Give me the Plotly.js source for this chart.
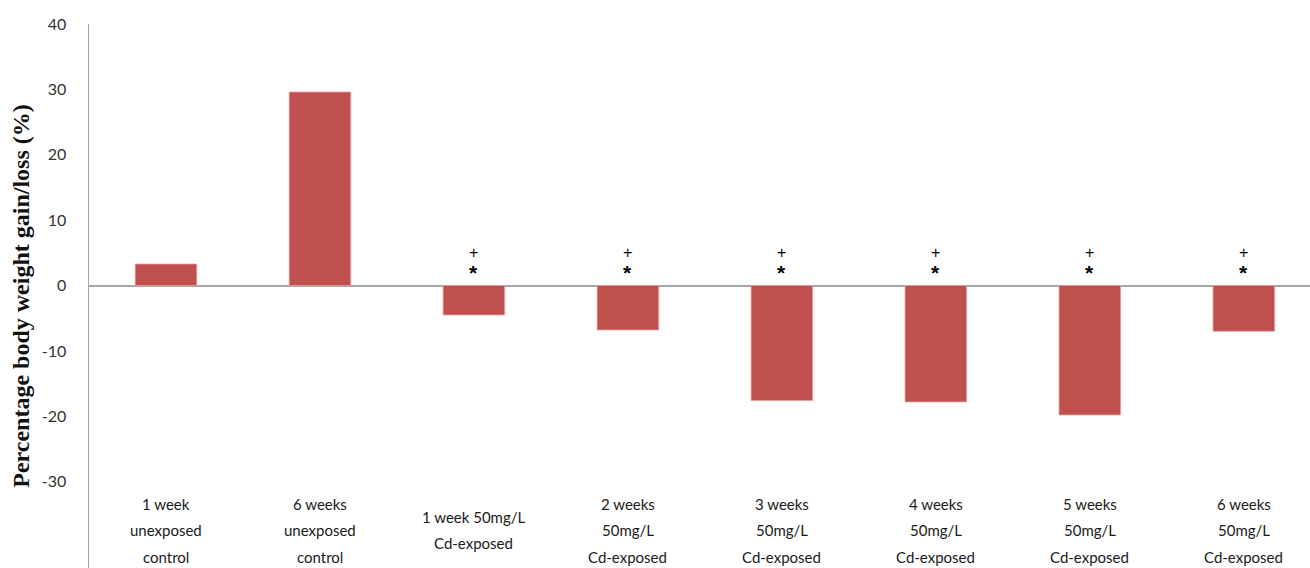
<!DOCTYPE html>
<html>
<head>
<meta charset="utf-8">
<script src="https://cdn.plot.ly/plotly-3.0.1.min.js"></script>
<style>
  html, body { margin: 0; padding: 0; background: #fff; }
  #chart { width: 1310px; height: 568px; }
</style>
</head>
<body>
<div id="chart"></div>
<script>
// Groups (each label line separated by "|")
const groups = [
  "1 week|unexposed|control",
  "6 weeks|unexposed|control",
  "1 week 50mg/L|Cd-exposed",
  "2 weeks|50mg/L|Cd-exposed",
  "3 weeks|50mg/L|Cd-exposed",
  "4 weeks|50mg/L|Cd-exposed",
  "5 weeks|50mg/L|Cd-exposed",
  "6 weeks|50mg/L|Cd-exposed"
];
// Percentage body weight gain/loss
const weightChange = [3.3, 29.6, -4.5, -6.8, -17.6, -17.8, -19.8, -7.0];
// Significance markers shown above each group
const significance = ["", "", "+|*", "+|*", "+|*", "+|*", "+|*", "+|*"];
const yTicks = [-30, -20, -10, 0, 10, 20, 30, 40];

const idx = groups.map((_, i) => i);

const trace = {
  type: "bar",
  x: idx,
  y: weightChange,
  width: 0.4,
  marker: { color: "#C0504D", line: { color: "#E8A3A1", width: 0.8 } },
  hoverinfo: "skip"
};

const annotations = [];
const labelFont = { family: "Lato, 'Open Sans', sans-serif", size: 15, color: "#1a1a1a" };
groups.forEach((g, i) => {
  const lines = g.split("|");
  const n = lines.length;
  lines.forEach((ln, k) => {
    annotations.push({
      x: i, xref: "x", y: -37.4, yref: "y",
      text: ln, showarrow: false, font: labelFont,
      xanchor: "center", yanchor: "middle",
      yshift: ((n - 1) / 2 - k) * 26.5
    });
  });
});
significance.forEach((s, i) => {
  if (!s) return;
  const parts = s.split("|");
  parts.forEach((p, k) => {
    const star = p === "*";
    annotations.push({
      x: i, xref: "x", y: 0, yref: "y",
      text: p, showarrow: false,
      font: { family: "'Liberation Sans', sans-serif", size: star ? 21 : 16, color: "#000", weight: star ? "bold" : "normal" },
      xanchor: "center", yanchor: "middle",
      yshift: star ? 13 : 33
    });
  });
});

const layout = {
  width: 1310,
  height: 568,
  margin: { l: 89, r: 0, t: 24, b: 0 },
  paper_bgcolor: "#fff",
  plot_bgcolor: "#fff",
  showlegend: false,
  xaxis: {
    range: [-0.5, 7.43],
    showticklabels: false,
    showgrid: false,
    zeroline: false,
    showline: false,
    ticks: ""
  },
  yaxis: {
    range: [-43.2, 40],
    tickvals: yTicks,
    ticktext: yTicks.map(String),
    showgrid: false,
    zeroline: true,
    zerolinecolor: "#a6a6a6",
    zerolinewidth: 2,
    showline: true,
    linecolor: "#a6a6a6",
    linewidth: 1.5,
    ticks: "",
    ticklabelstandoff: 18,
    tickfont: { family: "Lato, 'Open Sans', sans-serif", size: 16, color: "#333" },
    title: {
      text: "Percentage body weight gain/loss (%)",
      font: { family: "'Liberation Serif', 'Times New Roman', serif", size: 24, color: "#111", weight: "bold" },
      standoff: 5
    }
  },
  annotations: annotations
};

Plotly.newPlot("chart", [trace], layout, { displayModeBar: false, staticPlot: true });
</script>
</body>
</html>
